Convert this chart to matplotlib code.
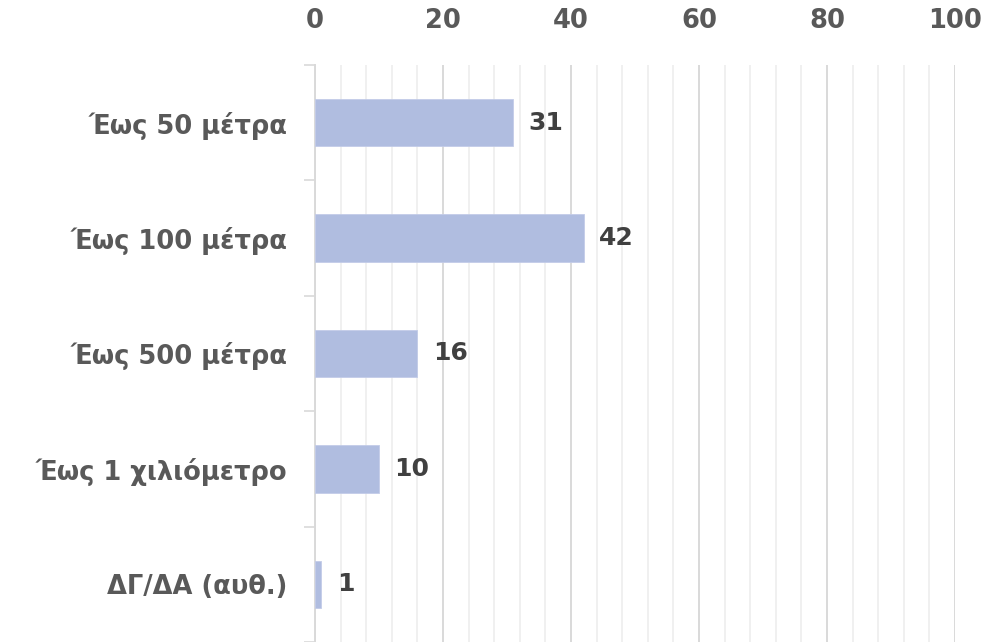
import matplotlib
matplotlib.use("Agg")
import matplotlib.pyplot as plt
import numpy as np

categories = ["Έως 50 μέτρα", "Έως 100 μέτρα", "Έως 500 μέτρα", "Έως 1 χιλιόμετρο", "ΔΓ/ΔΑ (αυθ.)"]
values = [31, 42, 16, 10, 1]
major_ticks = [0, 20, 40, 60, 80, 100]

plt.rcParams["font.family"] = ["DejaVu Sans"]

label_col = "#595959"
value_col = "#404040"
bar_col = "#B0BDE0"

fig = plt.figure(figsize=(10.08, 6.42), dpi=100)
ax = fig.add_axes([315/1008, 0, 640/1008, 1 - 65/642])

y = np.arange(len(categories))
ax.barh(y, values, height=0.41, color=bar_col, edgecolor="#C3CCE8", linewidth=0.6, zorder=3)

ax.set_xlim(0, 100)
ax.set_ylim(len(categories) - 0.5, -0.5)

# grid: light minor every 4, darker major every 20
ax.set_xticks(major_ticks)
ax.set_xticks(np.arange(0, 101, 4), minor=True)
ax.grid(axis="x", which="minor", color="#EEEEEE", linewidth=1.2, zorder=0)
ax.grid(axis="x", which="major", color="#D9D9D9", linewidth=1.4, zorder=1)

ax.xaxis.tick_top()
ax.tick_params(axis="x", which="both", length=0, pad=22, labelsize=18.5, labelcolor=label_col)
for lbl in ax.get_xticklabels():
    lbl.set_fontweight("bold")

# category labels with separator ticks
ax.set_yticks(y)
ax.set_yticklabels(categories, fontsize=18.5, fontweight="bold", color=label_col)
ax.set_yticks(np.arange(-0.5, len(categories), 1.0), minor=True)
ax.tick_params(axis="y", which="major", length=0, pad=20)
ax.tick_params(axis="y", which="minor", length=8, width=1.2, color="#D9D9D9")

for s in ["top", "right", "bottom"]:
    ax.spines[s].set_visible(False)
ax.spines["left"].set_color("#D9D9D9")
ax.spines["left"].set_linewidth(1.4)

for yi, v in zip(y, values):
    ax.text(v + 2.4, yi, str(v), va="center", ha="left", fontsize=18,
            fontweight="bold", color=value_col, zorder=4)

fig.savefig("out.png", dpi=100)
